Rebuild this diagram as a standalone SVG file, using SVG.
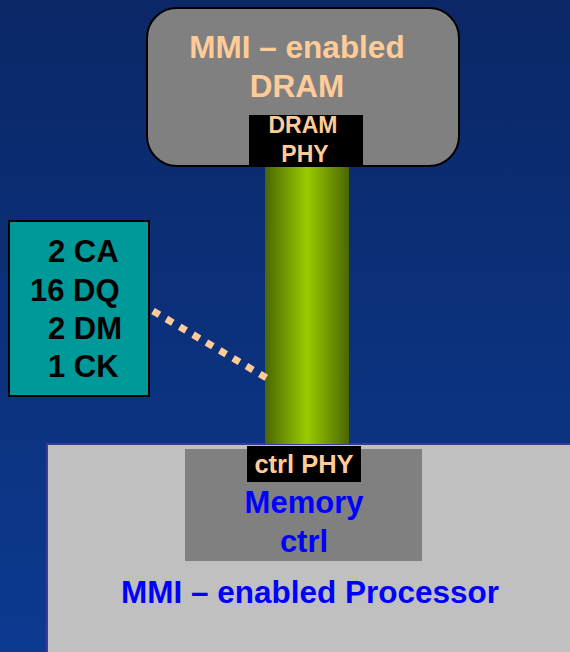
<svg xmlns="http://www.w3.org/2000/svg" width="570" height="652" viewBox="0 0 570 652">
<defs>
<linearGradient id="bg" x1="0" y1="0" x2="0" y2="1">
<stop offset="0" stop-color="#0b2766"/>
<stop offset="1" stop-color="#0c3a90"/>
</linearGradient>
<linearGradient id="bar" x1="0" y1="0" x2="1" y2="0">
<stop offset="0" stop-color="#4a6600"/>
<stop offset="0.5" stop-color="#99cc00"/>
<stop offset="1" stop-color="#4a6600"/>
</linearGradient>
<style>
text{font-family:"Liberation Sans",Arial,sans-serif;font-weight:bold;text-anchor:middle}
.peach{fill:#ffcc99}
.blue{fill:#0000ff}
.blk{fill:#000000;text-anchor:start}
</style>
</defs>
<rect x="0" y="0" width="570" height="652" fill="url(#bg)"/>
<g id="processor">
<rect x="47" y="444" width="530" height="220" fill="#c0c0c0" stroke="#3a3a9a" stroke-width="2"/>
<text class="blue" x="310" y="603" font-size="31.5">MMI – enabled Processor</text>
</g>
<g id="memory-ctrl">
<rect x="185" y="449" width="237" height="112" fill="#808080"/>
<text class="blue" x="304" y="513" font-size="31">Memory</text>
<text class="blue" x="304" y="552" font-size="31">ctrl</text>
</g>
<g id="connectors">
<rect x="265" y="164" width="84" height="280" fill="url(#bar)"/>
<line x1="153" y1="311" x2="266.3" y2="377.8" stroke="#ffcc99" stroke-width="7" stroke-dasharray="7.5 8"/>
</g>
<g id="dram">
<rect x="147" y="8" width="312" height="158" rx="30" ry="30" fill="#808080" stroke="#000" stroke-width="2"/>
<text class="peach" x="297" y="58" font-size="31.5">MMI – enabled</text>
<text class="peach" x="297" y="97" font-size="31.5">DRAM</text>
</g>
<g id="dram-phy">
<rect x="249" y="115" width="114" height="51" fill="#000"/>
<text class="peach" x="303" y="133" font-size="23">DRAM</text>
<text class="peach" x="305" y="162" font-size="23">PHY</text>
</g>
<g id="ctrl-phy">
<rect x="247" y="446" width="114" height="36" fill="#000"/>
<text class="peach" x="304" y="473" font-size="25.5">ctrl PHY</text>
</g>
<g id="signals">
<rect x="9" y="221" width="140" height="175" fill="#009999" stroke="#000" stroke-width="2"/>
<text class="blk" x="48" y="262" font-size="31">2 CA</text>
<text class="blk" x="30" y="301" font-size="31">16 DQ</text>
<text class="blk" x="48" y="339" font-size="31">2 DM</text>
<text class="blk" x="48" y="377" font-size="31">1 CK</text>
</g>
</svg>
